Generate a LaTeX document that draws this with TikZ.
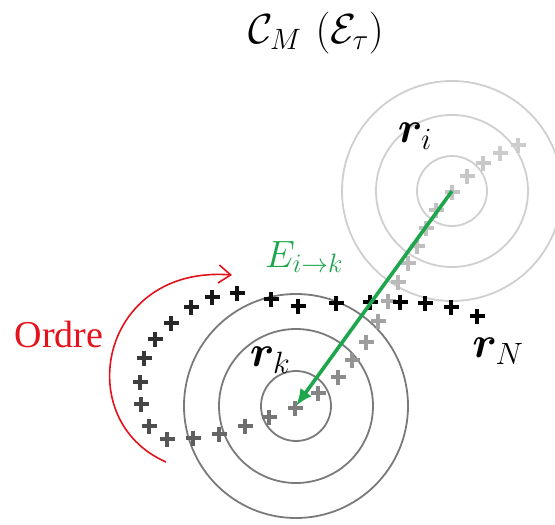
\RequirePackage{fix-cm}
\documentclass[tikz,border=0pt]{standalone}
\usepackage{amsmath,bm}
\usepackage{fontspec}
\usepackage{tikz}
\usetikzlibrary{arrows.meta}
\newfontfamily\ordrefont{Liberation Serif}
\definecolor{ringdark}{HTML}{7A7A7A}
\definecolor{ringpale}{HTML}{CFCFCF}
\definecolor{vecgreen}{HTML}{1DA64C}
\definecolor{ordred}{HTML}{E3121B}

\begin{document}
\begin{tikzpicture}[x=1pt,y=-1pt,
 ringk/.style={draw=ringdark,line width=1.8pt},
 ringi/.style={draw=ringpale,line width=1.8pt},
 sample/.style={line width=3.1pt},
 lbl/.style={inner sep=0pt,font=\fontsize{44}{48}\selectfont},
 vec/.style={-{Latex[length=17pt,width=14pt]},line width=3.6pt,draw=vecgreen},
 turn/.style={-{Straight Barb[length=12pt,width=18pt]},line width=1.6pt,draw=ordred}]
 \useasboundingbox (0,0) rectangle (555,525);
 \coordinate (ri) at (452,191);
 \coordinate (rk) at (296,406);
 % target rings
 \draw[ringi] (ri) circle[radius=35pt] circle[radius=76pt] circle[radius=110pt];
 \draw[ringk] (rk) circle[radius=35pt] circle[radius=77pt] circle[radius=112pt];
 % ordered samples, pale to black
 \foreach \x/\y [count=\n] in {518/145,500/153,483/163,467/176,452/192,
   436/210,426/228,417/246,408/263,398/282,388/301,378/321,366/342,352/360,
   338/377,318/393,295/408,269/417,245/426,219/434,193/438,167/439,149/426,
   141/404,140/382,144/358,155/339,171/323,191/307,212/297,237/293,271/299,
   298/306,336/303,370/302,400/302,425/303,451/307,477/316}{
   \pgfmathtruncatemacro\shade{\n<11 ? 20+0.8*(\n-1) : min(100,30+3*(\n-10))}
   \draw[sample,black!\shade] (\x-7.5,\y) -- (\x+7.5,\y) (\x,\y-7.5) -- (\x,\y+7.5);
 }
 \draw[vec] (ri) -- (rk);
 \node[lbl,font=\fontsize{42}{46}\selectfont] (title) at (316,33) {$\mathcal{C}_M\,\left(\mathcal{E}_\tau\right)$};
 \node[lbl] (lri) at (415,136) {$\bm{r}_i$};
 \node[lbl] (lrk) at (270,360) {$\bm{r}_k$};
 \node[lbl] (lrn) at (498,351) {$\bm{r}_N$};
 \node[lbl,text=vecgreen,font=\fontsize{38}{42}\selectfont] (lE) at (304,257) {$E_{i\rightarrow k}$};
 \node[inner sep=0pt,text=ordred,font=\ordrefont\fontsize{38}{42}\selectfont] (ordre) at (59,334) {Ordre};
 \coordinate (o1) at (166,462);
 \coordinate (o2) at (232,275);
 \draw[turn] (o1) .. controls (70,420) and (100,265) .. (o2);
\end{tikzpicture}
\end{document}
